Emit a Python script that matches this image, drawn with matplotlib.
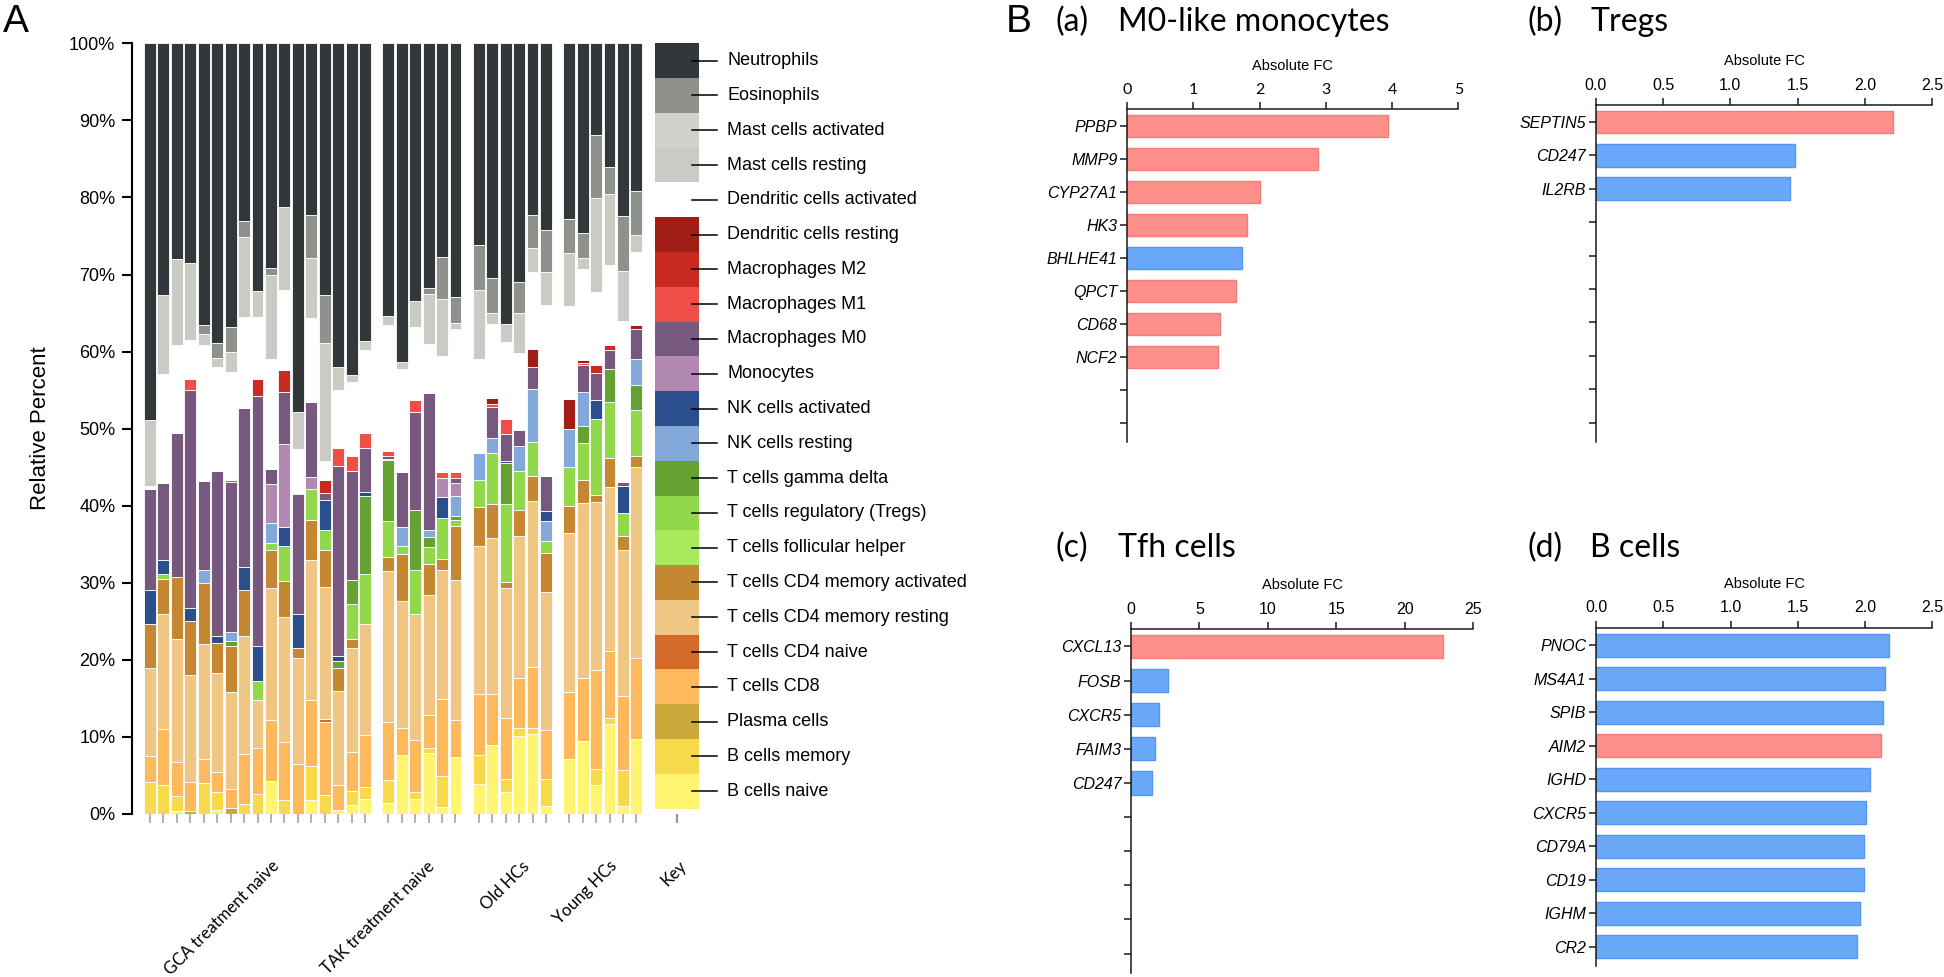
import numpy as np
import matplotlib
matplotlib.use("Agg")
import matplotlib.pyplot as plt

plt.rcParams['font.family'] = ['Liberation Sans', 'DejaVu Sans']

# ---- panel A data: CIBERSORT style fractions, bottom of the stack first ----
cell_types = ["B cells naive", "B cells memory", "Plasma cells", "T cells CD8", "T cells CD4 naive",
              "T cells CD4 memory resting", "T cells CD4 memory activated", "T cells follicular helper",
              "T cells regulatory (Tregs)", "T cells gamma delta", "NK cells resting", "NK cells activated",
              "Monocytes", "Macrophages M0", "Macrophages M1", "Macrophages M2", "Dendritic cells resting",
              "Dendritic cells activated", "Mast cells resting", "Mast cells activated", "Eosinophils",
              "Neutrophils"]
cell_colors = ["#fff46f", "#f7da4b", "#caa83a", "#feb95c", "#d46a2a",
               "#f0c685", "#c68733", "#a9eb5d",
               "#91d94a", "#66a133", "#82a9d9", "#2b4f8d",
               "#b189b1", "#77587f", "#ef4f47", "#c92a20", "#a11e17",
               "#ffffff", "#cacbc5", "#d0d2cc", "#8f928c",
               "#32383a"]

groups = ["GCA treatment naive", "TAK treatment naive", "Old HCs", "Young HCs"]
group_sizes = [17, 6, 6, 6]

# one value per sample: 17 GCA, 6 TAK, 6 old HCs, 6 young HCs
b_naive = [0, 0, 0.4, 0, 0, 0.5, 0, 0, 0, 4.3, 0, 0, 1.8, 0, 0.5, 1.2, 2.0,
           1.4, 7.6, 1.9, 7.9, 0.9, 7.4,
           3.9, 8.9, 2.9, 10.1, 10.4, 1.0,
           7.2, 9.5, 3.8, 11.7, 1.0, 9.7]
b_memory = [4.1, 3.8, 1.9, 0, 4.0, 2.3, 0, 1.3, 2.6, 0, 1.8, 0, 4.4, 2.5, 0, 1.8, 1.5,
            3.0, 0, 1.0, 0.7, 4.0, 0,
            3.8, 0, 1.7, 1.0, 0.7, 3.6,
            0, 0, 2.1, 0.7, 4.7, 0]
plasma = [0, 0, 0, 0.4, 0, 0, 0.8, 0, 0, 0, 0, 0, 0, 0, 0, 0, 0,
          0, 0, 0, 0, 0, 0,
          0, 0, 0, 0, 0, 0,
          0, 0, 0, 0, 0, 0]
t_cd8 = [3.4, 7.2, 4.5, 3.7, 3.2, 2.7, 2.5, 6.5, 5.9, 7.9, 7.5, 6.5, 8.6, 9.5, 3.3, 5.0, 6.8,
         7.5, 3.5, 6.7, 4.3, 10.0, 4.8,
         7.9, 6.7, 7.8, 6.5, 8.0, 6.3,
         8.6, 8.2, 12.8, 8.8, 9.6, 10.5]
t_cd4_naive = [0, 0, 0, 0, 0, 0, 0, 0, 0, 0, 0, 0, 0, 0.3, 0, 0, 0,
               0, 0, 0, 0, 0, 0,
               0, 0, 0, 0, 0, 0,
               0, 0, 0, 0, 0, 0]
t_cd4_resting = [11.4, 15.0, 15.9, 13.9, 14.8, 12.8, 12.5, 15.3, 6.3, 17.1, 16.2, 13.8, 18.2, 17.2, 12.1, 13.5, 14.4,
                 19.6, 16.5, 16.3, 15.5, 16.8, 18.2,
                 19.2, 20.2, 16.9, 18.5, 21.5, 17.9,
                 20.7, 22.6, 21.8, 21.2, 18.9, 24.8]
t_cd4_activated = [5.7, 4.5, 8.0, 7.0, 8.0, 3.9, 6.0, 5.9, 0, 5.0, 4.7, 1.2, 5.2, 4.8, 3.1, 1.2, 0,
                   1.8, 6.2, 0, 4.0, 1.4, 7.0,
                   5.0, 4.4, 0.8, 3.4, 3.2, 5.1,
                   3.5, 3.1, 0.9, 3.8, 1.9, 1.5]
t_fh = [0] * 35
t_reg = [0, 0.6, 0, 0, 0, 0, 0, 0, 2.5, 0.9, 4.6, 0, 4.0, 2.5, 0, 4.6, 6.5,
         4.7, 1.0, 5.7, 2.3, 5.3, 0.8,
         3.6, 6.7, 10.1, 5.0, 4.5, 1.5,
         5.0, 4.8, 9.8, 7.3, 3.0, 5.9]
t_gd = [0, 0, 0, 0, 0, 0, 0.7, 0, 0, 0, 0, 0, 0, 0, 0.8, 3.1, 10.1,
        7.9, 0, 7.8, 1.2, 0, 0.5,
        0, 0, 5.4, 0, 0, 0,
        0, 2.2, 0, 4.2, 0, 3.2]
nk_resting = [0, 0, 0, 0, 1.7, 0, 1.1, 0, 0, 2.6, 0, 0, 0, 0, 0, 0, 0,
              0, 2.5, 0, 1.0, 0, 2.5,
              3.5, 1.9, 0, 3.3, 6.8, 2.6,
              5.0, 4.3, 0, 0, 0, 3.5]
nk_activated = [4.4, 1.9, 0, 1.7, 0, 0.9, 0, 3.0, 4.5, 0, 2.4, 4.5, 0, 4.0, 0.7, 0, 0.5,
                0, 0, 0, 0, 2.7, 0,
                0, 0, 0.2, 0, 0, 1.3,
                0, 0, 2.5, 0, 3.5, 0]
monocytes = [0, 0, 0, 0, 0, 0, 0, 0, 0, 5.0, 10.8, 0, 1.5, 0, 0, 0, 0,
             0.2, 0, 0, 0, 2.5, 1.7,
             0, 0, 0, 0, 0, 0,
             0, 0, 0, 0, 0, 0]
mac_m0 = [13.2, 10.0, 18.8, 28.3, 11.5, 21.4, 19.5, 20.7, 32.4, 1.9, 6.8, 15.5, 9.8, 0.8, 24.7, 14.1, 5.7,
          0.3, 7.1, 12.7, 17.7, 0, 0.7,
          0, 4.0, 3.5, 2.0, 2.9, 4.5,
          0, 3.5, 3.5, 2.5, 0.5, 3.8]
mac_m1 = [0, 0, 0, 1.5, 0, 0, 0.3, 0, 0, 0, 0, 0, 0, 0, 2.3, 2.0, 2.0,
          0.7, 0, 1.6, 0, 0.8, 0.8,
          0, 0.4, 2.0, 0, 0, 0,
          0, 0.3, 0, 0, 0, 0]
mac_m2 = [0, 0, 0, 0, 0, 0, 0, 0, 2.3, 0, 2.8, 0, 0, 1.8, 0, 0, 0,
          0, 0, 0, 0, 0, 0,
          0, 0, 0, 0, 0, 0,
          0, 0, 1.0, 0.7, 0, 0]
dc_resting = [0, 0, 0, 0, 0, 0, 0, 0, 0, 0, 0, 0.2, 0, 0, 0, 0, 0,
              0, 0, 0, 0, 0, 0,
              0, 0.8, 0, 0, 2.3, 0,
              3.9, 0.4, 0, 0, 0, 0.5]
dc_activated = [0.3, 14.1, 11.3, 5.0, 17.6, 13.5, 13.9, 11.8, 8.0, 14.3, 10.4, 5.6, 10.8, 2.4, 7.5, 9.5, 10.7,
                16.3, 13.3, 9.5, 6.4, 15.0, 18.5,
                12.2, 9.6, 10.0, 10.0, 10.0, 22.2,
                12.0, 11.8, 9.5, 10.3, 20.9, 9.5]
mast_resting = [8.6, 10.2, 11.2, 10.0, 1.5, 1.2, 2.7, 10.4, 3.3, 11.0, 10.7, 4.9, 7.9, 15.3, 3.0, 1.0, 1.2,
                1.2, 0.9, 3.4, 6.5, 7.4, 0.8,
                8.9, 1.4, 2.3, 5.2, 3.2, 4.3,
                6.9, 1.4, 12.2, 9.2, 6.5, 2.2]
mast_activated = [0] * 35
eosinophils = [0, 0, 0, 0, 1.2, 1.9, 3.2, 2.1, 0, 0.8, 0, 0, 5.5, 6.2, 0, 0, 0,
               0, 0, 0, 0.8, 5.5, 3.4,
               5.8, 4.5, 0, 4.0, 4.2, 5.5,
               4.4, 3.3, 8.2, 3.5, 7.1, 5.7]
neutrophils = [48.9, 32.7, 28.0, 28.5, 36.5, 38.9, 36.8, 23.0, 32.2, 29.2, 21.3, 47.8, 22.3, 32.7, 42.0, 43.0, 38.6,
               35.4, 41.4, 33.4, 31.7, 27.7, 32.9,
               26.2, 30.5, 36.4, 31.0, 22.3, 24.2,
               22.8, 24.6, 11.9, 16.1, 22.4, 19.2]

fractions = np.array([b_naive, b_memory, plasma, t_cd8, t_cd4_naive, t_cd4_resting, t_cd4_activated,
                      t_fh, t_reg, t_gd, nk_resting, nk_activated, monocytes, mac_m0, mac_m1, mac_m2,
                      dc_resting, dc_activated, mast_resting, mast_activated, eosinophils, neutrophils])

# ---- panel B data: absolute fold change ----
m0_genes = ["PPBP", "MMP9", "CYP27A1", "HK3", "BHLHE41", "QPCT", "CD68", "NCF2"]
m0_fc = [3.94, 2.88, 2.01, 1.81, 1.73, 1.64, 1.40, 1.38]
m0_up = [1, 1, 1, 1, 0, 1, 1, 1]

treg_genes = ["SEPTIN5", "CD247", "IL2RB"]
treg_fc = [2.21, 1.48, 1.44]
treg_up = [1, 0, 0]

tfh_genes = ["CXCL13", "FOSB", "CXCR5", "FAIM3", "CD247"]
tfh_fc = [22.8, 2.68, 2.02, 1.75, 1.51]
tfh_up = [1, 0, 0, 0, 0]

bcell_genes = ["PNOC", "MS4A1", "SPIB", "AIM2", "IGHD", "CXCR5", "CD79A", "CD19", "IGHM", "CR2"]
bcell_fc = [2.18, 2.15, 2.13, 2.12, 2.04, 2.01, 1.99, 1.99, 1.96, 1.94]
bcell_up = [0, 0, 0, 1, 0, 0, 0, 0, 0, 0]


W, H = 1944, 977
fig = plt.figure(figsize=(W / 100, H / 100), dpi=100)

# ================= panel A =================
ax = fig.add_axes([132 / W, (H - 814) / H, (704 - 132) / W, (814 - 43.3) / H])

pos = []
start = 0.0
centers = []
for n in group_sizes:
    pos += [start + k for k in range(n)]
    centers.append(start + (n - 1) / 2)
    start += n + 0.73
pos = np.array(pos)
key_x = pos[-1] + 3.0

bottom = np.zeros(len(pos))
for vals, col in zip(fractions, cell_colors):
    ax.bar(pos, vals, bottom=bottom, width=0.89, color=col, edgecolor="white", linewidth=0.6)
    bottom += vals

# key column, one equal block per cell type
key_base = 0.7
key_step = (100 - key_base) / len(cell_types)
ax.bar([key_x] * len(cell_types), [key_step] * len(cell_types),
       bottom=key_base + key_step * np.arange(len(cell_types)), width=3.27,
       color=cell_colors, edgecolor="none")
for i, name in enumerate(cell_types):
    y = key_base + key_step * (i + 0.5)
    ax.plot([key_x + 1.1, key_x + 3.0], [y, y], color="black", lw=1.1, clip_on=False)
    ax.text(key_x + 3.76, y, name, va="center", ha="left", fontsize=13, clip_on=False)

ax.set_xlim(-1.339, 41.22)
ax.set_ylim(0, 100)
for s in ["top", "right", "bottom"]:
    ax.spines[s].set_visible(False)
ax.spines["left"].set_linewidth(1.5)
ax.set_yticks(np.arange(0, 101, 10))
ax.set_yticklabels([f"{v}%" for v in range(0, 101, 10)], fontsize=13)
ax.tick_params(axis="y", length=7, width=1.5, pad=5)

ax.set_xticks(list(pos) + [key_x])
ax.set_xticklabels([])
ax.tick_params(axis="x", length=6.5, width=1.1, color="#9a9a9a")
xt = ax.get_xticklines()
xt[-2].set_color("black")
xt[-1].set_color("black")
xt[-2].set_markeredgewidth(1.6)

# rotated group names under the bars
label_shift = [1.0, 0.3, 0.65, 0.45, 0.15]
for c, g, dx in zip(centers + [key_x], groups + ["Key"], label_shift):
    ax.text(c + dx, -0.057, g, transform=ax.get_xaxis_transform(), rotation=45,
            rotation_mode="anchor", ha="right", va="top", fontsize=12, family="Lato")

fig.text(41 / W, 1 - 428 / H, "Relative Percent", rotation=90, ha="center", va="center", fontsize=16)
fig.text(16 / W, 1 - 22 / H, "A", ha="center", va="center", fontsize=28)
fig.text(1019 / W, 1 - 22 / H, "B", ha="center", va="center", fontsize=28)

# ================= panel B =================
red, red_edge = "#ff8f8a", "#f47c77"
blue, blue_edge = "#6aa8fa", "#5597f0"


def fc_panel(rect, genes, fc, up, xmax, xticks, xlabels, tickfont):
    bx = fig.add_axes(rect)
    rows = np.arange(len(genes))
    bx.barh(rows, fc, height=0.68,
            color=[red if u else blue for u in up],
            edgecolor=[red_edge if u else blue_edge for u in up], linewidth=1)
    bx.set_xlim(0, xmax)
    bx.set_ylim(9.57, -0.51)
    bx.set_yticks(range(10))
    bx.set_yticklabels(genes + [""] * (10 - len(genes)), fontsize=11.5, style="italic")
    bx.xaxis.tick_top()
    bx.xaxis.set_label_position("top")
    bx.set_xticks(xticks)
    bx.set_xticklabels(xlabels, fontsize=11.5, family=tickfont)
    bx.set_xlabel("Absolute FC", fontsize=10.5, labelpad=9)
    for s in ["right", "bottom"]:
        bx.spines[s].set_visible(False)
    for s in ["top", "left"]:
        bx.spines[s].set_linewidth(1.1)
        bx.spines[s].set_color("#1a1a1a")
    bx.tick_params(axis="both", length=5, width=1.1, color="#1a1a1a", pad=2)
    bx.tick_params(axis="x", pad=4)
    return bx


fc_panel([1127 / W, (H - 442) / H, 331.3 / W, 333 / H], m0_genes, m0_fc, m0_up,
         5, range(6), [str(v) for v in range(6)], "Lato")
fc_panel([1595.7 / W, (H - 441.7) / H, 336.6 / W, 336.7 / H], treg_genes, treg_fc, treg_up,
         2.5, np.arange(0, 2.6, 0.5), [f"{v:.1f}" for v in np.arange(0, 2.6, 0.5)], "Liberation Sans")
fc_panel([1131 / W, (H - 973) / H, 342.3 / W, 344 / H], tfh_genes, tfh_fc, tfh_up,
         25, range(0, 26, 5), [str(v) for v in range(0, 26, 5)], "Liberation Sans")
fc_panel([1596 / W, (H - 966) / H, 336.3 / W, 338 / H], bcell_genes, bcell_fc, bcell_up,
         2.5, np.arange(0, 2.6, 0.5), [f"{v:.1f}" for v in np.arange(0, 2.6, 0.5)], "Liberation Sans")

titles = [("(a)", "M0-like monocytes", 1055, 1118, 22),
          ("(b)", "Tregs", 1527, 1590, 22),
          ("(c)", "Tfh cells", 1055, 1118, 548),
          ("(d)", "B cells", 1527, 1590, 548)]
for tag, name, x1, x2, y in titles:
    fig.text(x1 / W, 1 - y / H, tag, ha="left", va="center", fontsize=23, family="Lato")
    fig.text(x2 / W, 1 - y / H, name, ha="left", va="center", fontsize=23, family="Lato")

fig.savefig("out.png", dpi=100)
